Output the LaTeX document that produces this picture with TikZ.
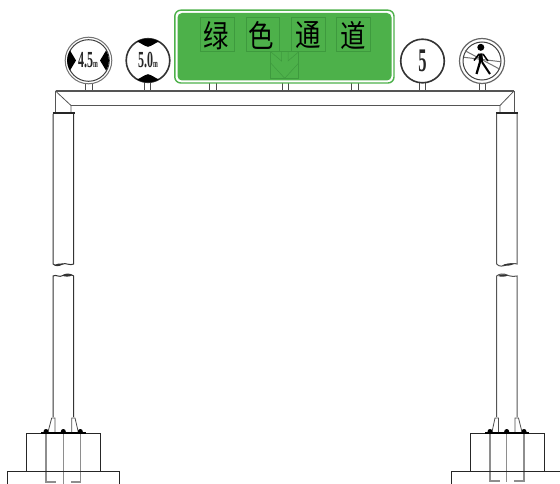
\documentclass[tikz,border=0pt]{standalone}
\usepackage{fontspec}
\usepackage{graphicx}
\setmainfont{Liberation Serif}
\newfontfamily\cjkface{Noto Sans CJK SC}
\definecolor{signgreen}{HTML}{4DB14A}
\definecolor{boxgreen}{HTML}{3E9A3E}
\definecolor{steel}{HTML}{555555}
\definecolor{boltgrey}{HTML}{8E8E8E}
\newcommand{\lowm}{\raisebox{0pt}{\fontsize{11}{11}\selectfont m}}
\tikzset{
  beamline/.style={draw=steel,line width=1.2pt},
  postline/.style={draw=black!80,line width=1pt},
  standoff/.style={draw=black!70,line width=.8pt},
  ring/.style={draw=black!80,line width=1.6pt,fill=white},
  innerring/.style={draw=black!75,line width=1pt},
  cjkbox/.style={draw=boxgreen,line width=.5pt},
  cjkchar/.style={font=\cjkface\fontsize{31}{31}\selectfont,text=black,inner sep=0pt},
  signtext/.style={font=\bfseries\fontsize{23}{23}\selectfont,text=black!85,inner sep=0pt},
  bolt/.style={draw=boltgrey,line width=1.3pt},
  concrete/.style={draw=black!85,line width=.9pt},
  nut/.style={circle,fill=black,inner sep=0pt,minimum size=5pt},
}
\begin{document}
\begin{tikzpicture}[x=1pt,y=-1pt]
\useasboundingbox (0,0) rectangle (560,484);
% standoffs
\foreach \xa/\xb in {85.3/92,144.7/150.3,209.7/216.3,282.3/288.7,351.7/358,419.3/425.7,479/485.3}{
  \draw[standoff] (\xa,80) -- (\xa,91);
  \draw[standoff] (\xb,80) -- (\xb,91);
}
% beam
\coordinate (bl) at (55.5,91);
\coordinate (br) at (514,91);
\coordinate (il) at (71,105.5);
\coordinate (ir) at (500,105.5);
\draw[beamline] (bl) -- (br);
\draw[beamline] (il) -- (ir);
\draw[draw=steel,line width=.8pt] (bl) -- (il) -- (71,112);
\draw[draw=steel,line width=.8pt] (br) -- (ir) -- (500,112);
\draw[draw=steel,line width=.8pt] (bl) -- (55.5,112);
\draw[draw=steel,line width=.8pt] (br) -- (514,112);
% collars
\draw[black!85,line width=2.4pt] (52.5,113) -- (75,113);
\draw[black!85,line width=2.4pt] (496,113) -- (518,113);
% posts, upper parts with broken ends
\draw[postline] (53,114) -- (53,264) .. controls (56,266.5) and (59,266) .. (62,264) .. controls (66,262.5) and (70,266) .. (73.7,264) -- (73.7,114);
\fill[black!80] (54,265) .. controls (57,263.5) and (60,263) .. (64,264) .. controls (60,266) and (57,266) .. (54,265) -- cycle;
\draw[postline] (53,417) -- (53,276) .. controls (56,274) and (59,278) .. (63,275.5) .. controls (66,273.5) and (70,273.5) .. (73.7,276) -- (73.7,417);
\fill[black!80] (62,275.5) .. controls (65,273.5) and (69,273.5) .. (72,275.5) .. controls (69,277) and (65,277) .. (62,275.5) -- cycle;
\draw[postline,draw=steel] (496.7,114) -- (496.7,264) .. controls (499,267) and (503,266.5) .. (507,264.5) .. controls (510,263.5) and (514,263) .. (517,264) -- (517,114);
\fill[black!80] (502,265.5) .. controls (505,263.5) and (510,263) .. (514,264) .. controls (510,266) and (506,266) .. (502,265.5) -- cycle;
\draw[postline,draw=steel] (496.7,417) -- (496.7,276) .. controls (499,274) and (503,273) .. (507,275) .. controls (510,276.5) and (514,276.5) .. (517,276) -- (517,417);
\fill[black!80] (498,276) .. controls (501,274) and (505,274) .. (508,275.5) .. controls (505,277) and (501,277) .. (498,276) -- cycle;
% left foot
\draw[bolt] (46,433) -- (46,482) -- (56,482);
\draw[bolt] (63.3,433) -- (63.3,484);
\draw[bolt] (80.3,433) -- (80.3,482) -- (71,482);
\draw[concrete] (26,471) -- (26,433) -- (100.7,433) -- (100.7,471);
\draw[concrete] (7.7,484) -- (7.7,471) -- (119,471) -- (119,484);
\draw[black,line width=1.5pt] (41,433) -- (86,433);
\draw[draw=black!70,line width=.8pt] (48,432) -- (51.7,418) -- (55,418) -- (55,432);
\draw[draw=black!70,line width=.8pt] (71.7,432) -- (71.7,418) -- (75,418) -- (78.3,432);
\node[nut] (nl1) at (46,431.5) {};
\node[nut] (nl2) at (63.3,431.5) {};
\node[nut] (nl3) at (80.3,431.5) {};
% right foot
\draw[bolt] (490,433) -- (490,481) -- (500,481);
\draw[bolt] (506.7,433) -- (506.7,482);
\draw[bolt] (524,433) -- (524,481) -- (514,481);
\draw[concrete] (470,471) -- (470,433) -- (544,433) -- (544,471);
\draw[concrete] (451.7,484) -- (451.7,471) -- (560,471);
\draw[black,line width=1.5pt] (485,433) -- (529,433);
\draw[draw=black!70,line width=.8pt] (492,432) -- (495,418) -- (498.5,418) -- (498.5,432);
\draw[draw=black!70,line width=.8pt] (515,432) -- (515,418) -- (518.5,418) -- (522,432);
\node[nut] (nr1) at (490,431.5) {};
\node[nut] (nr2) at (506.7,431.5) {};
\node[nut] (nr3) at (524,431.5) {};
% green panel
\draw[draw=signgreen,line width=1.4pt,fill=white,rounded corners=6pt] (174.8,10.2) rectangle (394,83);
\fill[signgreen,rounded corners=4.5pt] (177.5,13) rectangle (391.5,80.5);
\foreach \xa/\xb in {200.7/234.7,246/279.7,291.3/325,336.7/370}{
  \draw[cjkbox] (\xa,17.3) rectangle (\xb,51.7);
}
\node[cjkchar] (c1) at (216.5,36) {\scalebox{.82}[1]{绿}};
\node[cjkchar] (c2) at (261.5,35) {\scalebox{.82}[1]{色}};
\node[cjkchar] (c3) at (308.5,35) {\scalebox{.82}[1]{通}};
\node[cjkchar] (c4) at (353.5,35) {\scalebox{.82}[1]{道}};
% arrow symbol
\draw[cjkbox] (270.7,51.7) rectangle (298.7,78.3);
\draw[cjkbox] (271,52) -- (281.5,61) -- (281.5,52);
\draw[cjkbox] (298.5,52) -- (288,61) -- (288,52);
\draw[cjkbox] (270.7,63) -- (284.7,78.3) -- (298.7,63);
% sign 4.5
\draw[draw=black!55,line width=1pt,fill=white] (88.5,60.5) circle (23.3);
\draw[innerring] (88.5,60.5) circle (20.8);
\fill[black] (70,50.5) -- (76,60.5) -- (70,70.5) .. controls (68,67) and (67,64) .. (67,60.5) .. controls (67,57) and (68,54) .. (70,50.5) -- cycle;
\fill[black] (106,50.5) -- (100,60.5) -- (106,70.5) .. controls (108,67) and (109,64) .. (109,60.5) .. controls (109,57) and (108,54) .. (106,50.5) -- cycle;
\node[signtext] (t45) at (88,60.5) {\scalebox{.52}[1]{4.5\lowm}};
% sign 5.0
\draw[ring] (148,60.5) circle (21.8);
\fill[black] (137,41.5) .. controls (141,43) and (144,46) .. (148,46.8) .. controls (152,46) and (155,43) .. (159,41.5) .. controls (155,39.2) and (152,38.8) .. (148,38.8) .. controls (144,38.8) and (141,39.2) .. (137,41.5) -- cycle;
\fill[black] (137,79.5) .. controls (141,78) and (144,75) .. (148,74.2) .. controls (152,75) and (155,78) .. (159,79.5) .. controls (155,81.8) and (152,82.2) .. (148,82.2) .. controls (144,82.2) and (141,81.8) .. (137,79.5) -- cycle;
\node[signtext] (t50) at (148,60.5) {\scalebox{.52}[1]{5.0\lowm}};
% sign 5
\draw[ring] (422.5,61) circle (21.8);
\node[signtext,font=\bfseries\fontsize{33}{33}\selectfont] (t5) at (422.5,61) {\scalebox{.5}[1]{5}};
% pedestrian sign
\draw[draw=black!60,line width=1.2pt,fill=white] (482,61) circle (22.5);
\draw[innerring] (482,61) circle (19);
\draw[draw=black!55,line width=1pt] (465,50.7) -- (500,69.3);
\draw[draw=black!55,line width=1pt] (464,57.3) -- (500.7,61.7);
\fill[black] (480.8,47.3) circle (3.5);
\draw[black,line width=4pt] (480.5,53.5) -- (481,62);
\draw[black,line width=1.5pt] (479,54) -- (474,60.5);
\draw[black,line width=1.5pt] (483,54) -- (488,61);
\draw[black,line width=2.2pt] (480,62) -- (476.5,74);
\draw[black,line width=2pt] (482,62) -- (490,74);
\end{tikzpicture}
\end{document}
